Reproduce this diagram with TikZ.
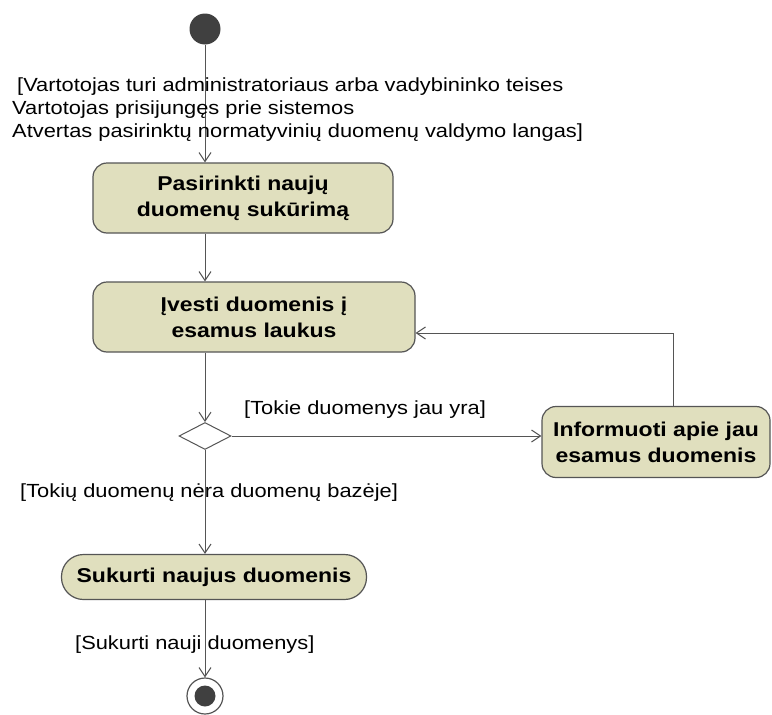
\documentclass[tikz,border=0pt]{standalone}
\usepackage{fontspec}
\setmainfont{Liberation Sans}
\newfontfamily\widefont[FakeStretch=1.15]{Liberation Sans}
\usetikzlibrary{arrows.meta,shapes.geometric}
\definecolor{actfill}{RGB}{224,223,190}
\definecolor{actdraw}{RGB}{85,85,85}
\definecolor{dotc}{RGB}{64,64,64}
\tikzset{
  act/.style={draw=actdraw, line width=1.2pt, fill=actfill, rounded corners=14pt,
    align=center, font=\widefont\fontsize{20}{26}\selectfont\bfseries, inner sep=0pt},
  arr/.style={draw=actdraw, line width=1pt, -{Straight Barb[length=9pt,width=12pt,line width=1pt]}},
  guard/.style={anchor=west, inner sep=0pt, font=\widefont\fontsize{19}{21}\selectfont},
}
\begin{document}
\begin{tikzpicture}[x=1pt,y=-1pt]
\useasboundingbox (0,0) rectangle (772,715);
\node[circle, fill=dotc, minimum size=31pt, inner sep=0pt] (start) at (205,29) {};
\node[act, minimum width=300pt, minimum height=70pt] (a1) at (243,198) {Pasirinkti naujų\\duomenų sukūrimą};
\node[act, minimum width=322pt, minimum height=70pt] (a2) at (254,317) {Įvesti duomenis į\\esamus laukus};
\node[diamond, draw=actdraw, line width=1pt, fill=white, minimum width=52pt, minimum height=27pt, inner sep=0pt] (dec) at (205,436) {};
\node[act, minimum width=228pt, minimum height=71pt] (a3) at (656,442) {Informuoti apie jau\\esamus duomenis};
\node[act, minimum width=305pt, minimum height=45pt, rounded corners=22pt] (a4) at (214,577) {Sukurti naujus duomenis};
\node[circle, draw=actdraw, line width=1.2pt, fill=white, minimum size=36pt, inner sep=0pt] (end) at (205,696) {};
\node[circle, fill=dotc, minimum size=21pt, inner sep=0pt] (endin) at (end) {};

\coordinate (c1) at (205,233);
\coordinate (c2) at (205,352);
\coordinate (c4) at (205,600);

\draw[arr] (start) -- (start |- a1.north);
\draw[arr] (a1.south -| c1) -- (c1 |- a2.north);
\draw[arr] (a2.south -| c2) -- (dec.north);
\draw[arr] (dec.east) -- (a3.west |- dec.east);
\draw[arr] ([xshift=17pt]a3.north) |- ([yshift=-16pt]a2.east);
\draw[arr] (dec.south) -- (dec.south |- a4.north);
\draw[arr] (a4.south -| c4) -- (end.north);

\node[guard] (g1) at (17,87) {[Vartotojas turi administratoriaus arba vadybininko teises};
\node[guard] (g2) at (12,110) {Vartotojas prisijungęs prie sistemos};
\node[guard] (g3) at (12,133) {Atvertas pasirinktų normatyvinių duomenų valdymo langas]};
\node[guard] (g4) at (244,410) {[Tokie duomenys jau yra]};
\node[guard] (g5) at (20,493) {[Tokių duomenų nėra duomenų bazėje]};
\node[guard] (g6) at (75,645) {[Sukurti nauji duomenys]};
\end{tikzpicture}
\end{document}
